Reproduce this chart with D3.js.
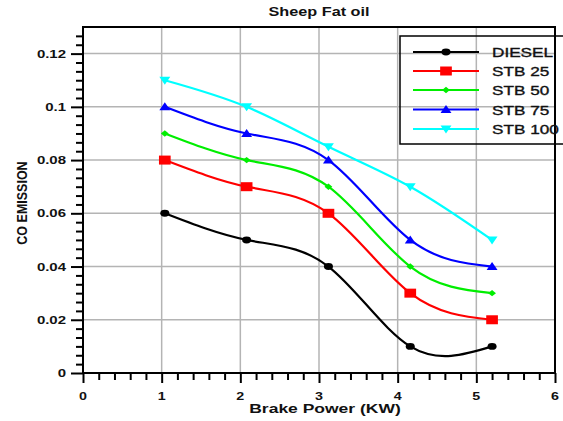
<!DOCTYPE html>
<html>
<head>
<meta charset="utf-8">
<script src="https://cdn.jsdelivr.net/npm/d3@7"></script>
<style>
  html, body { margin: 0; padding: 0; background: #fff; }
  svg { display: block; font-family: "Liberation Sans", Arial, sans-serif; }
</style>
</head>
<body>
<svg id="chart" width="563" height="421"></svg>
<script>
// ---- data ----
const brakePower = [1.04, 2.08, 3.12, 4.16, 5.2];
const diesel = [0.06, 0.05, 0.04, 0.01, 0.01];
const stb25  = [0.08, 0.07, 0.06, 0.03, 0.02];
const stb50  = [0.09, 0.08, 0.07, 0.04, 0.03];
const stb75  = [0.10, 0.09, 0.08, 0.05, 0.04];
const stb100 = [0.11, 0.10, 0.085, 0.07, 0.05];
const seriesNames = ["DIESEL", "STB 25", "STB 50", "STB 75", "STB 100"];
const seriesColors = ["#000000", "#ff0000", "#00ee00", "#0000ff", "#00ffff"];
const seriesMarkers = ["circle", "square", "diamond", "triUp", "triDown"];
const xTicks = [0, 1, 2, 3, 4, 5, 6];
const yTicks = [0, 0.02, 0.04, 0.06, 0.08, 0.1, 0.12];
const yTickLabels = ["0", "0.02", "0.04", "0.06", "0.08", "0.1", "0.12"];
const title = "Sheep Fat oil";
const xTitle = "Brake Power (KW)";
const yTitle = "CO EMISSION";

const seriesValues = [diesel, stb25, stb50, stb75, stb100];

const W = 563, H = 421;
const m = { left: 83, right: 8, top: 27, bottom: 48 };
const svg = d3.select("#chart");
const x = d3.scaleLinear().domain([0, 6]).range([m.left, W - m.right]);
const y = d3.scaleLinear().domain([0, 0.13]).range([H - m.bottom, m.top]);
const SX = 1.33; // horizontal stretch of the original picture

function stretchedText(g, tx, ty, str, opts) {
  const t = g.append("text")
    .attr("transform", `translate(${tx},${ty}) scale(${opts.sx || SX},1)` + (opts.rot ? ` rotate(${opts.rot})` : ""))
    .attr("text-anchor", opts.anchor || "middle")
    .attr("font-size", opts.size)
    .attr("font-weight", opts.weight || "normal")
    .attr("fill", "#111")
    .attr("stroke", "#111")
    .attr("stroke-width", opts.stroke || 0)
    .text(str);
  return t;
}

// gridlines
const grid = svg.append("g");
grid.selectAll("line.gx").data([1, 2, 3, 4, 5]).join("line")
  .attr("x1", d => x(d)).attr("x2", d => x(d))
  .attr("y1", y(0)).attr("y2", y(0.13))
  .attr("stroke", "#b4b4b4").attr("stroke-width", 1.5);
grid.selectAll("line.gy").data(yTicks.slice(1)).join("line")
  .attr("x1", x(0)).attr("x2", x(6))
  .attr("y1", d => y(d)).attr("y2", d => y(d))
  .attr("stroke", "#b4b4b4").attr("stroke-width", 1.5);

// minor ticks
const xMinor = d3.range(0, 6.0001, 0.2).filter(v => Math.abs(v - Math.round(v)) > 1e-6);
const yMinor = d3.range(0, 0.1301, 0.02 / 6).filter(v => Math.abs(v / 0.02 - Math.round(v / 0.02)) > 1e-6 && v < 0.1295);

// axes
const xAxis = d3.axisBottom(x).tickValues(xTicks).tickSize(10).tickFormat("");
const gx = svg.append("g").attr("transform", `translate(0,${y(0)})`).call(xAxis);
gx.select(".domain").remove();
gx.selectAll(".tick line").attr("stroke", "#000").attr("stroke-width", 2);
svg.append("g").attr("transform", `translate(0,${y(0)})`)
  .call(d3.axisBottom(x).tickValues(xMinor).tickSize(7).tickFormat(""))
  .call(g => { g.select(".domain").remove(); g.selectAll(".tick line").attr("stroke", "#000").attr("stroke-width", 2); });

const yAxis = d3.axisLeft(y).tickValues(yTicks).tickSize(12).tickFormat("");
const gy = svg.append("g").attr("transform", `translate(${x(0)},0)`).call(yAxis);
gy.select(".domain").remove();
gy.selectAll(".tick line").attr("stroke", "#000").attr("stroke-width", 2);
svg.append("g").attr("transform", `translate(${x(0)},0)`)
  .call(d3.axisLeft(y).tickValues(yMinor).tickSize(7).tickFormat(""))
  .call(g => { g.select(".domain").remove(); g.selectAll(".tick line").attr("stroke", "#000").attr("stroke-width", 2); });

// tick labels
const labels = svg.append("g");
xTicks.forEach(v => stretchedText(labels, x(v), y(0) + 27, String(v), { size: 11, weight: "bold", sx: 1.3 }));
yTicks.forEach((v, i) => stretchedText(labels, x(0) - 17, y(v) + 4, yTickLabels[i], { size: 11, weight: "bold", anchor: "end", sx: 1.36 }));

// frame
svg.append("rect")
  .attr("x", x(0)).attr("y", y(0.13))
  .attr("width", x(6) - x(0)).attr("height", y(0) - y(0.13))
  .attr("fill", "none").attr("stroke", "#000").attr("stroke-width", 2);

// titles
stretchedText(svg, 319, 16, title, { size: 12.5, weight: "bold", sx: 1.3 });
stretchedText(svg, 325, 413, xTitle, { size: 12.5, weight: "bold", sx: 1.4 });
stretchedText(svg, 27, 203, yTitle, { size: 12.5, weight: "bold", sx: 1.2, rot: -90 });

// markers
function markerPath(kind) {
  switch (kind) {
    case "circle": return d3.symbol(d3.symbolCircle, 38)();
    case "square": return "M-4.5,-4.5H4.5V4.5H-4.5Z";
    case "diamond": return "M0,-3.2L3,0L0,3.2L-3,0Z";
    case "triUp": return "M0,-4.5L4.2,3.5L-4.2,3.5Z";
    case "triDown": return "M0,4.5L4.2,-3.5L-4.2,-3.5Z";
  }
}

const line = d3.line().x(d => x(d[0])).y(d => y(d[1])).curve(d3.curveNatural);
const plot = svg.append("g");
seriesValues.forEach((vals, i) => {
  const pts = brakePower.map((bp, j) => [bp, vals[j]]);
  plot.append("path").attr("d", line(pts))
    .attr("fill", "none").attr("stroke", seriesColors[i]).attr("stroke-width", 2.2);
  plot.selectAll(null).data(pts).join("path")
    .attr("d", markerPath(seriesMarkers[i]))
    .attr("transform", d => `translate(${x(d[0])},${y(d[1])}) scale(1.3,1)`)
    .attr("fill", seriesColors[i]);
});

// legend
const leg = svg.append("g");
leg.append("rect").attr("x", 400).attr("y", 36).attr("width", 170).attr("height", 108)
  .attr("fill", "none").attr("stroke", "#000").attr("stroke-width", 1.5);
const rowY = [52, 71, 90, 109.5, 129];
seriesNames.forEach((name, i) => {
  leg.append("line").attr("x1", 413).attr("x2", 479).attr("y1", rowY[i]).attr("y2", rowY[i])
    .attr("stroke", seriesColors[i]).attr("stroke-width", 2.2);
  leg.append("path").attr("d", markerPath(seriesMarkers[i]))
    .attr("transform", `translate(446,${rowY[i]}) scale(1.3,1)`)
    .attr("fill", seriesColors[i]);
  stretchedText(leg, 492, rowY[i] + 5, name, { size: 13, anchor: "start", sx: 1.32, stroke: 0.35 });
});
</script>
</body>
</html>
